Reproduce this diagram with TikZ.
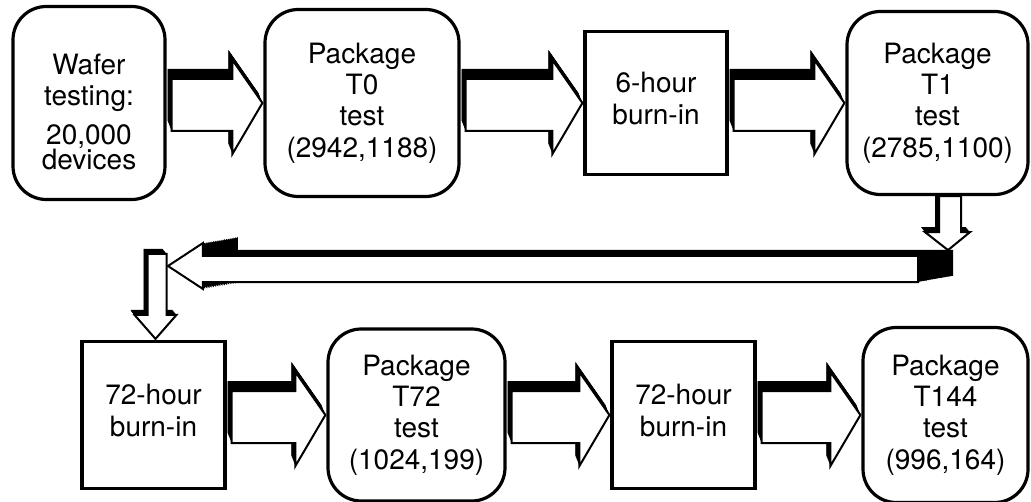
\documentclass[tikz,border=0pt]{standalone}
\usepackage{fontspec}
\setmainfont{TeX Gyre Heros}
\usetikzlibrary{calc,backgrounds}

\tikzset{every picture/.style={line width=0.75pt}}
\tikzset{
  stage/.style={draw, line width=2.4pt, fill=white, rounded corners=25pt, inner sep=0pt, align=center, font=\fontsize{21}{23.5}\selectfont},
  oven/.style={stage, rounded corners=0pt, text depth=7pt},
  caption/.style={inner sep=0pt, align=center, font=\fontsize{21}{23.5}\selectfont},
}

% outline of a block arrow along +x, tail at the origin
% #1 length, #2 head length, #3/#4 shaft edges, #5/#6 head edges
\newcommand{\arrowoutline}[6]{(0,#3) -- ({#1-#2},#3) -- ({#1-#2},#5) -- (#1,0) -- ({#1-#2},#6) -- ({#1-#2},#4) -- (0,#4) -- cycle}

% solid arrow: black extrusion behind a white face
% #1 origin, #2 rotation, #3/#4 extrusion, #5 outline
\newcommand{\solidarrow}[5]{%
  \begin{scope}[shift={#1}, rotate=#2]
    \foreach \k in {0,...,16}
      \fill[shift={({\k/16*#3},{\k/16*#4})}] #5;
    \filldraw[fill=white, line width=1.5pt, line join=miter] #5;
  \end{scope}}

% horizontal distance between two points, in picture units
\newcommand{\gaplen}[3]{%
  \path let \p1 = (#1), \p2 = (#2) in
    \pgfextra{\pgfmathsetmacro\gaptmp{(\x2-\x1)/0.75+#3}\global\let\flowlen\gaptmp};}

% arrow from one stage to the next one on the right
\newcommand{\flowarrow}[2]{%
  \gaplen{#1.east}{#2.west}{-6}
  \solidarrow{($(#1.east)+(5,0)$)}{0}{-4}{-10}{\arrowoutline{\flowlen}{30}{-24}{28}{-43}{51}}}

\begin{document}
\begin{tikzpicture}[x=0.75pt,y=0.75pt,yscale=-1,xscale=1]
	\useasboundingbox (0,0) rectangle (1031,502);

	%Rounded Rect: wafer
	\node[stage, minimum width=114pt, minimum height=144.75pt] (wafer) at (89,103) {};
	% Text Node
	\node[caption] (waferText) at ($(wafer.center)+(0,9)$) {Wafer\\testing:\\[5.25pt]20,000\\[-4.5pt]devices};
	%Rounded Rect: T0
	\node[stage, minimum width=145.5pt, minimum height=140.25pt] (pkgT0) at (362,103) {Package\\T0\\test\\(2942,1188)};
	%Rect: 6 hours
	\node[oven, minimum width=106.5pt, minimum height=107.25pt] (burnA) at (656,103) {6-hour\\burn-in};
	%Rounded Rect: T1
	\node[stage, minimum width=135.75pt, minimum height=137.25pt] (pkgT1) at (937.5,103) {Package\\T1\\test\\(2785,1100)};
	%Rect: 72 hours
	\node[oven, minimum width=107.25pt, minimum height=110.25pt] (burnB) at (153.5,415) {72-hour\\burn-in};
	%Rounded Rect: T72
	\node[stage, minimum width=132.75pt, minimum height=129pt] (pkgT72) at (416.5,415) {Package\\T72\\test\\(1024,199)};
	%Rect: 72 hours
	\node[oven, minimum width=107.25pt, minimum height=110.25pt] (burnC) at (683.5,415) {72-hour\\burn-in};
	%Rounded Rect: T144
	\node[stage, minimum width=123.75pt, minimum height=131.25pt] (pkgT144) at (945.5,415) {Package\\T144\\test\\(996,164)};

	%Return path ends
	\coordinate (backR) at (918,266);
	\coordinate (backL) at (168,266);

	\begin{scope}[on background layer]
	%Block Arrows: first row
	\flowarrow{wafer}{pkgT0}
	\flowarrow{pkgT0}{burnA}
	\flowarrow{burnA}{pkgT1}
	%Block Arrow: down from T1
	\solidarrow{($(pkgT1.south)+(10.5,0)$)}{90}{-5}{4}{\arrowoutline{54}{18}{9}{-13}{23}{-22}}
	%Block Arrow: back to the left
	\gaplen{backL}{backR}{0}
	\solidarrow{(backR)}{180}{-35}{6}{\arrowoutline{\flowlen}{35}{10}{-16}{23}{-23}}
	%Block Arrow: down into 72 hours
	\solidarrow{($(burnB.north)+(2,-86)$)}{90}{-5}{4}{\arrowoutline{85}{24}{8}{-11}{21}{-21}}
	%Block Arrows: second row
	\flowarrow{burnB}{pkgT72}
	\flowarrow{pkgT72}{burnC}
	\flowarrow{burnC}{pkgT144}
	\end{scope}

\end{tikzpicture}
\end{document}
